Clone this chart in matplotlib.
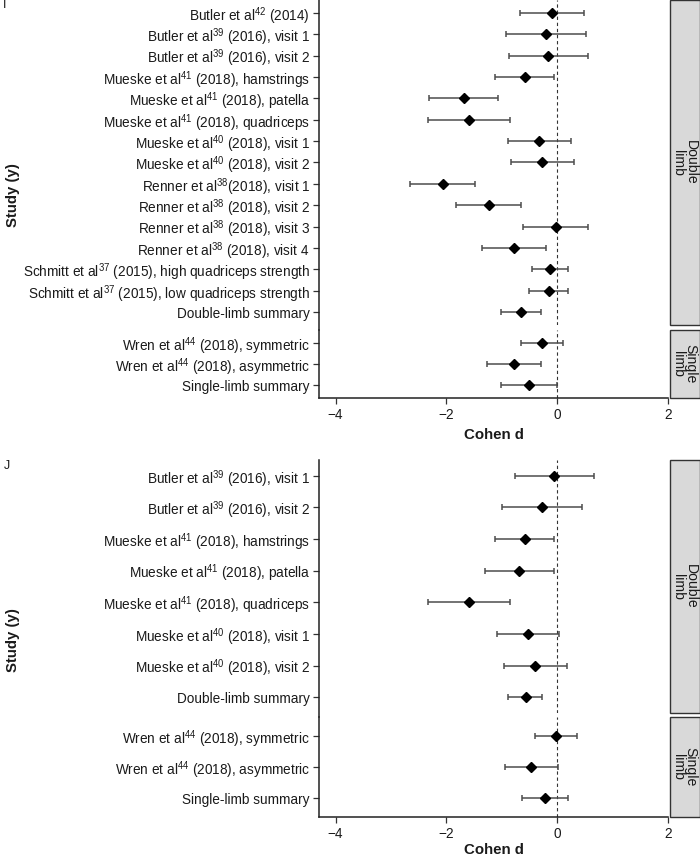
import matplotlib
matplotlib.use("Agg")
import matplotlib.pyplot as plt
from matplotlib.patches import Rectangle
import numpy as np

plt.rcParams['font.family'] = ['Liberation Sans', 'DejaVu Sans']
plt.rcParams['mathtext.fontset'] = 'custom'
plt.rcParams['mathtext.rm'] = 'Liberation Sans'
plt.rcParams['mathtext.it'] = 'Liberation Sans:italic'
plt.rcParams['mathtext.bf'] = 'Liberation Sans:bold'

# ---------------- Panel I data ----------------
i_double_labels = [
    "Butler et al$^{42}$ (2014)",
    "Butler et al$^{39}$ (2016), visit 1",
    "Butler et al$^{39}$ (2016), visit 2",
    "Mueske et al$^{41}$ (2018), hamstrings",
    "Mueske et al$^{41}$ (2018), patella",
    "Mueske et al$^{41}$ (2018), quadriceps",
    "Mueske et al$^{40}$ (2018), visit 1",
    "Mueske et al$^{40}$ (2018), visit 2",
    "Renner et al$^{38}$(2018), visit 1",
    "Renner et al$^{38}$ (2018), visit 2",
    "Renner et al$^{38}$ (2018), visit 3",
    "Renner et al$^{38}$ (2018), visit 4",
    "Schmitt et al$^{37}$ (2015), high quadriceps strength",
    "Schmitt et al$^{37}$ (2015), low quadriceps strength",
    "Double-limb summary",
]
i_double_d = [-0.10, -0.20, -0.16, -0.59, -1.69, -1.59, -0.33, -0.27, -2.06, -1.24, -0.03, -0.78, -0.13, -0.15, -0.66]
i_double_lo = [-0.68, -0.92, -0.87, -1.13, -2.31, -2.34, -0.89, -0.84, -2.65, -1.82, -0.61, -1.36, -0.45, -0.51, -1.01]
i_double_hi = [0.48, 0.52, 0.56, -0.05, -1.07, -0.85, 0.25, 0.30, -1.48, -0.66, 0.55, -0.20, 0.19, 0.20, -0.30]

i_single_labels = [
    "Wren et al$^{44}$ (2018), symmetric",
    "Wren et al$^{44}$ (2018), asymmetric",
    "Single-limb summary",
]
i_single_d = [-0.27, -0.78, -0.51]
i_single_lo = [-0.65, -1.26, -1.01]
i_single_hi = [0.11, -0.30, 0.00]

# ---------------- Panel J data ----------------
j_double_labels = [
    "Butler et al$^{39}$ (2016), visit 1",
    "Butler et al$^{39}$ (2016), visit 2",
    "Mueske et al$^{41}$ (2018), hamstrings",
    "Mueske et al$^{41}$ (2018), patella",
    "Mueske et al$^{41}$ (2018), quadriceps",
    "Mueske et al$^{40}$ (2018), visit 1",
    "Mueske et al$^{40}$ (2018), visit 2",
    "Double-limb summary",
]
j_double_d = [-0.05, -0.28, -0.59, -0.69, -1.59, -0.52, -0.40, -0.57]
j_double_lo = [-0.77, -0.99, -1.13, -1.31, -2.33, -1.08, -0.96, -0.88]
j_double_hi = [0.67, 0.45, -0.05, -0.06, -0.85, 0.04, 0.18, -0.27]

j_single_labels = [
    "Wren et al$^{44}$ (2018), symmetric",
    "Wren et al$^{44}$ (2018), asymmetric",
    "Single-limb summary",
]
j_single_d = [-0.03, -0.47, -0.22]
j_single_lo = [-0.40, -0.95, -0.64]
j_single_hi = [0.35, 0.02, 0.20]

facet_names = ["Double\nlimb", "Single\nlimb"]
x_ticks = [-4, -2, 0, 2]
x_limits = (-4.3, 2.0)

W, H = 700, 859
fig = plt.figure(figsize=(W / 100, H / 100), dpi=100)

TXT = '#1a1a1a'
FS = 9.8


def px_axes(left, top, right, bottom):
    return fig.add_axes([left / W, 1 - bottom / H, (right - left) / W, (bottom - top) / H])


def facet(ax, labels, d, lo, hi, name, e, is_bottom, gap_px):
    n = len(labels)
    y = np.arange(n)[::-1]
    d = np.asarray(d); lo = np.asarray(lo); hi = np.asarray(hi)
    ax.axvline(0, color='#333333', lw=0.8, ls=(0, (3, 2.5)), zorder=1)
    ax.errorbar(d, y, xerr=[d - lo, hi - d], fmt='none', ecolor='#4d4d4d',
                elinewidth=1.1, capsize=2.5, capthick=1.1, zorder=2)
    ax.plot(d, y, 'D', color='black', ms=4.9, zorder=3)
    ax.set_ylim(-e, n - 1 + e)
    ax.set_xlim(*x_limits)
    ax.set_yticks(y)
    ax.set_yticklabels(labels, fontsize=FS, color=TXT)
    ax.tick_params(axis='y', length=4, width=0.9, pad=2.5, color='#333333')
    for s in ['top', 'right']:
        ax.spines[s].set_visible(False)
    ax.spines['left'].set_linewidth(1.1)
    ax.spines['left'].set_color('#222222')
    if is_bottom:
        ax.set_xticks(x_ticks)
        ax.set_xticklabels([f"\u2212{abs(t)}" if t < 0 else str(t) for t in x_ticks],
                           fontsize=FS, color=TXT)
        ax.tick_params(axis='x', length=4, width=0.9, pad=3.5, color='#333333')
        ax.spines['bottom'].set_linewidth(1.1)
        ax.spines['bottom'].set_color('#222222')
    else:
        ax.set_xticks([])
        ax.spines['bottom'].set_visible(False)
        # extend left spine over the gap between facets
        h_px = ax.get_position().height * H
        u = h_px / (n - 1 + 2 * e)
        ax.spines['left'].set_bounds(-e - gap_px / u, n - 1 + e)
    ax.patch.set_alpha(0)
    sw = 30 / (ax.get_position().width * W)
    x0 = 1 + 1.5 / (ax.get_position().width * W)
    ax.add_patch(Rectangle((x0, 0), sw, 1, transform=ax.transAxes, clip_on=False,
                           facecolor='#d9d9d9', edgecolor='#333333', lw=1.0))
    ax.text(x0 + sw / 2, 0.5, name, transform=ax.transAxes, rotation=270,
            ha='center', va='center', fontsize=FS + 0.3, color=TXT, linespacing=0.85)


# Panel I
a1 = px_axes(319, 0, 668, 325)
b1 = px_axes(319, 330, 668, 398)
facet(a1, i_double_labels, i_double_d, i_double_lo, i_double_hi, facet_names[0], 0.6, False, 5)
facet(b1, i_single_labels, i_single_d, i_single_lo, i_single_hi, facet_names[1], 0.6, True, 0)
b1.set_xlabel("Cohen d", fontsize=10.8, fontweight='bold', color=TXT, labelpad=4)

# Panel J
a2 = px_axes(319, 461, 668, 817)
a2.remove()
a2 = px_axes(319, 460, 668, 713)
b2 = px_axes(319, 717, 668, 817)
facet(a2, j_double_labels, j_double_d, j_double_lo, j_double_hi, facet_names[0], 0.5, False, 4)
facet(b2, j_single_labels, j_single_d, j_single_lo, j_single_hi, facet_names[1], 0.6, True, 0)
b2.set_xlabel("Cohen d", fontsize=10.8, fontweight='bold', color=TXT, labelpad=1.5)

fig.text(13 / W, 1 - 195 / H, "Study (y)", rotation=90, ha='center', va='center',
         fontsize=10.8, fontweight='bold', color=TXT)
fig.text(13 / W, 1 - 640 / H, "Study (y)", rotation=90, ha='center', va='center',
         fontsize=10.8, fontweight='bold', color=TXT)
fig.text(3 / W, 1 - 5 / H, "I", ha='left', va='center', fontsize=9, color=TXT)
fig.text(4 / W, 1 - 466 / H, "J", ha='left', va='center', fontsize=9, color=TXT)

fig.savefig("out.png", dpi=100)
